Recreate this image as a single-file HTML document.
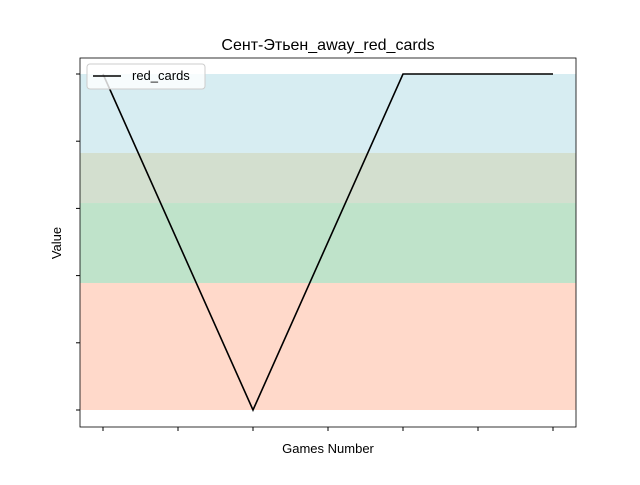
<!DOCTYPE html>
<html><head><meta charset="utf-8"><style>
body{margin:0;background:#fff;font-family:"Liberation Sans","DejaVu Sans",sans-serif}
</style></head><body>
<svg width="640" height="480" xmlns="http://www.w3.org/2000/svg">
<rect width="640" height="480" fill="#fff"/>
<g id="bands"></g>
<g id="ticks"></g>
<path id="line" fill="none" stroke="#000" stroke-width="1.6"/>
<rect x="80" y="58" width="496" height="369" fill="none" stroke="#000" stroke-width="0.8"/>
<text x="328" y="50" font-size="16" text-anchor="middle">Сент-Этьен_away_red_cards</text>
<text x="328" y="453" font-size="13" text-anchor="middle">Games Number</text>
<text x="61" y="243" font-size="13" text-anchor="middle" transform="rotate(-90 61 243)">Value</text>
<g>
<rect x="87" y="64" width="118" height="25" rx="3" fill="#fff" fill-opacity="0.8" stroke="#ccc"/>
<line x1="93" y1="76" x2="121" y2="76" stroke="#000" stroke-width="1.6"/>
<text x="132" y="80" font-size="13">red_cards</text>
</g>
</svg>
<script>
const xValues=[0,1,2,3];
const redCards=[1,0,1,1];
const xTicks=[0,0.5,1,1.5,2,2.5,3];
const yTicks=[0,0.2,0.4,0.6,0.8,1];
const bandLows=[0.765,0.616,0.378,0];
const bandHighs=[1,0.765,0.616,0.378];
const bandColors=["#d7edf2","#d3dfcf","#bfe3ca","#ffd9ca"];
const xs=v=>103+v*150, ys=v=>410-v*336;
const NS="http://www.w3.org/2000/svg";
const bg=document.getElementById('bands');
bandLows.forEach((lo,i)=>{const r=document.createElementNS(NS,'rect');
r.setAttribute('x',80);r.setAttribute('width',496);
r.setAttribute('y',ys(bandHighs[i]));r.setAttribute('height',ys(lo)-ys(bandHighs[i]));
r.setAttribute('fill',bandColors[i]);


bg.appendChild(r);});
const tg=document.getElementById('ticks');
xTicks.forEach(t=>{const l=document.createElementNS(NS,'line');
l.setAttribute('x1',xs(t));l.setAttribute('x2',xs(t));l.setAttribute('y1',427);l.setAttribute('y2',431);l.setAttribute('stroke','#000');


tg.appendChild(l);});
yTicks.forEach(t=>{const l=document.createElementNS(NS,'line');
l.setAttribute('x1',76);l.setAttribute('x2',80);l.setAttribute('y1',ys(t));l.setAttribute('y2',ys(t));l.setAttribute('stroke','#000');


tg.appendChild(l);});
document.getElementById('line').setAttribute('d',xValues.map((x,i)=>(i?'L':'M')+xs(x)+' '+ys(redCards[i])).join(' '));
</script>
</body></html>
